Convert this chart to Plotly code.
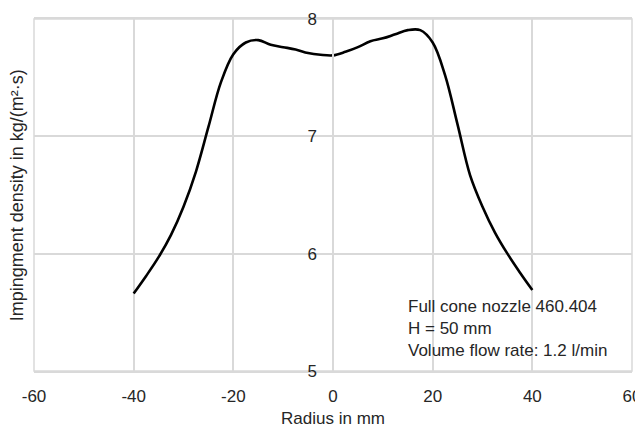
import plotly.graph_objects as go

radius_mm = [-40, -37.5, -35, -32.5, -30, -27.5, -25, -22.5, -20, -17.5, -15, -12.5,
             -10, -7.5, -5, -2.5, 0, 2.5, 5, 7.5, 10, 12.5, 15, 17.5, 20, 22.5, 25,
             27.5, 30, 32.5, 35, 37.5, 40]
density = [5.66, 5.81, 5.97, 6.16, 6.40, 6.70, 7.08, 7.46, 7.70, 7.80, 7.82, 7.78,
           7.76, 7.74, 7.71, 7.695, 7.69, 7.72, 7.76, 7.81, 7.835, 7.87, 7.905, 7.905,
           7.80, 7.52, 7.10, 6.67, 6.40, 6.18, 6.00, 5.84, 5.69]

x_ticks = [-60, -40, -20, 0, 20, 40, 60]
x_tick_labels = ["-60", "-40", "-20", "0", "20", "40", "60"]
y_ticks = [5, 6, 7, 8]

note_lines = ["Full cone nozzle 460.404", "H = 50 mm", "Volume flow rate: 1.2 l/min"]

FONT = "Liberation Sans, Arial, sans-serif"
GRID = "#d9d9d9"
TXT = "#262626"

# the page body adds an 8px offset; compensate in size and margins
fig = go.Figure()
fig.add_trace(go.Scatter(
    x=radius_mm, y=density, mode="lines",
    line=dict(color="black", width=2.6, shape="spline", smoothing=1.0),
    showlegend=False, hoverinfo="skip",
))

fig.update_layout(
    width=635, height=421,
    margin=dict(l=26, r=11, t=11, b=58),
    paper_bgcolor="white", plot_bgcolor="white",
    font=dict(family=FONT, size=17, color=TXT),
    xaxis=dict(
        range=[-60, 60], tickvals=x_ticks, ticktext=x_tick_labels, ticks="",
        showgrid=True, gridcolor=GRID, gridwidth=1.5, zeroline=False,
        showline=True, linecolor=GRID, linewidth=1.5, mirror=True,
        ticklabelstandoff=9, automargin=False,
        title=dict(text="Radius in mm", font=dict(size=17), standoff=7),
    ),
    yaxis=dict(
        range=[5, 8], tickvals=y_ticks, ticks="", showgrid=True,
        gridcolor=GRID, gridwidth=1.5, zeroline=False,
        anchor="free", position=0.5,
        showline=True, linecolor=GRID, linewidth=1.5,
        ticklabelstandoff=12, automargin=False,
    ),
    shapes=[
        dict(type="rect", xref="paper", yref="paper", x0=0, x1=1, y0=0, y1=1,
             line=dict(color=GRID, width=1.5), layer="below"),
    ],
    annotations=[
        dict(text="Impingment density in kg/(m²·s)", xref="paper", yref="paper",
             x=-0.028, y=0.5, textangle=-90, showarrow=False,
             xanchor="center", yanchor="middle", font=dict(size=18)),
        dict(text="<br>".join(note_lines), xref="x", yref="y",
             x=14.6, y=5.36, showarrow=False, align="left",
             xanchor="left", yanchor="middle", font=dict(size=17)),
    ],
)

fig.write_html("out.html")
